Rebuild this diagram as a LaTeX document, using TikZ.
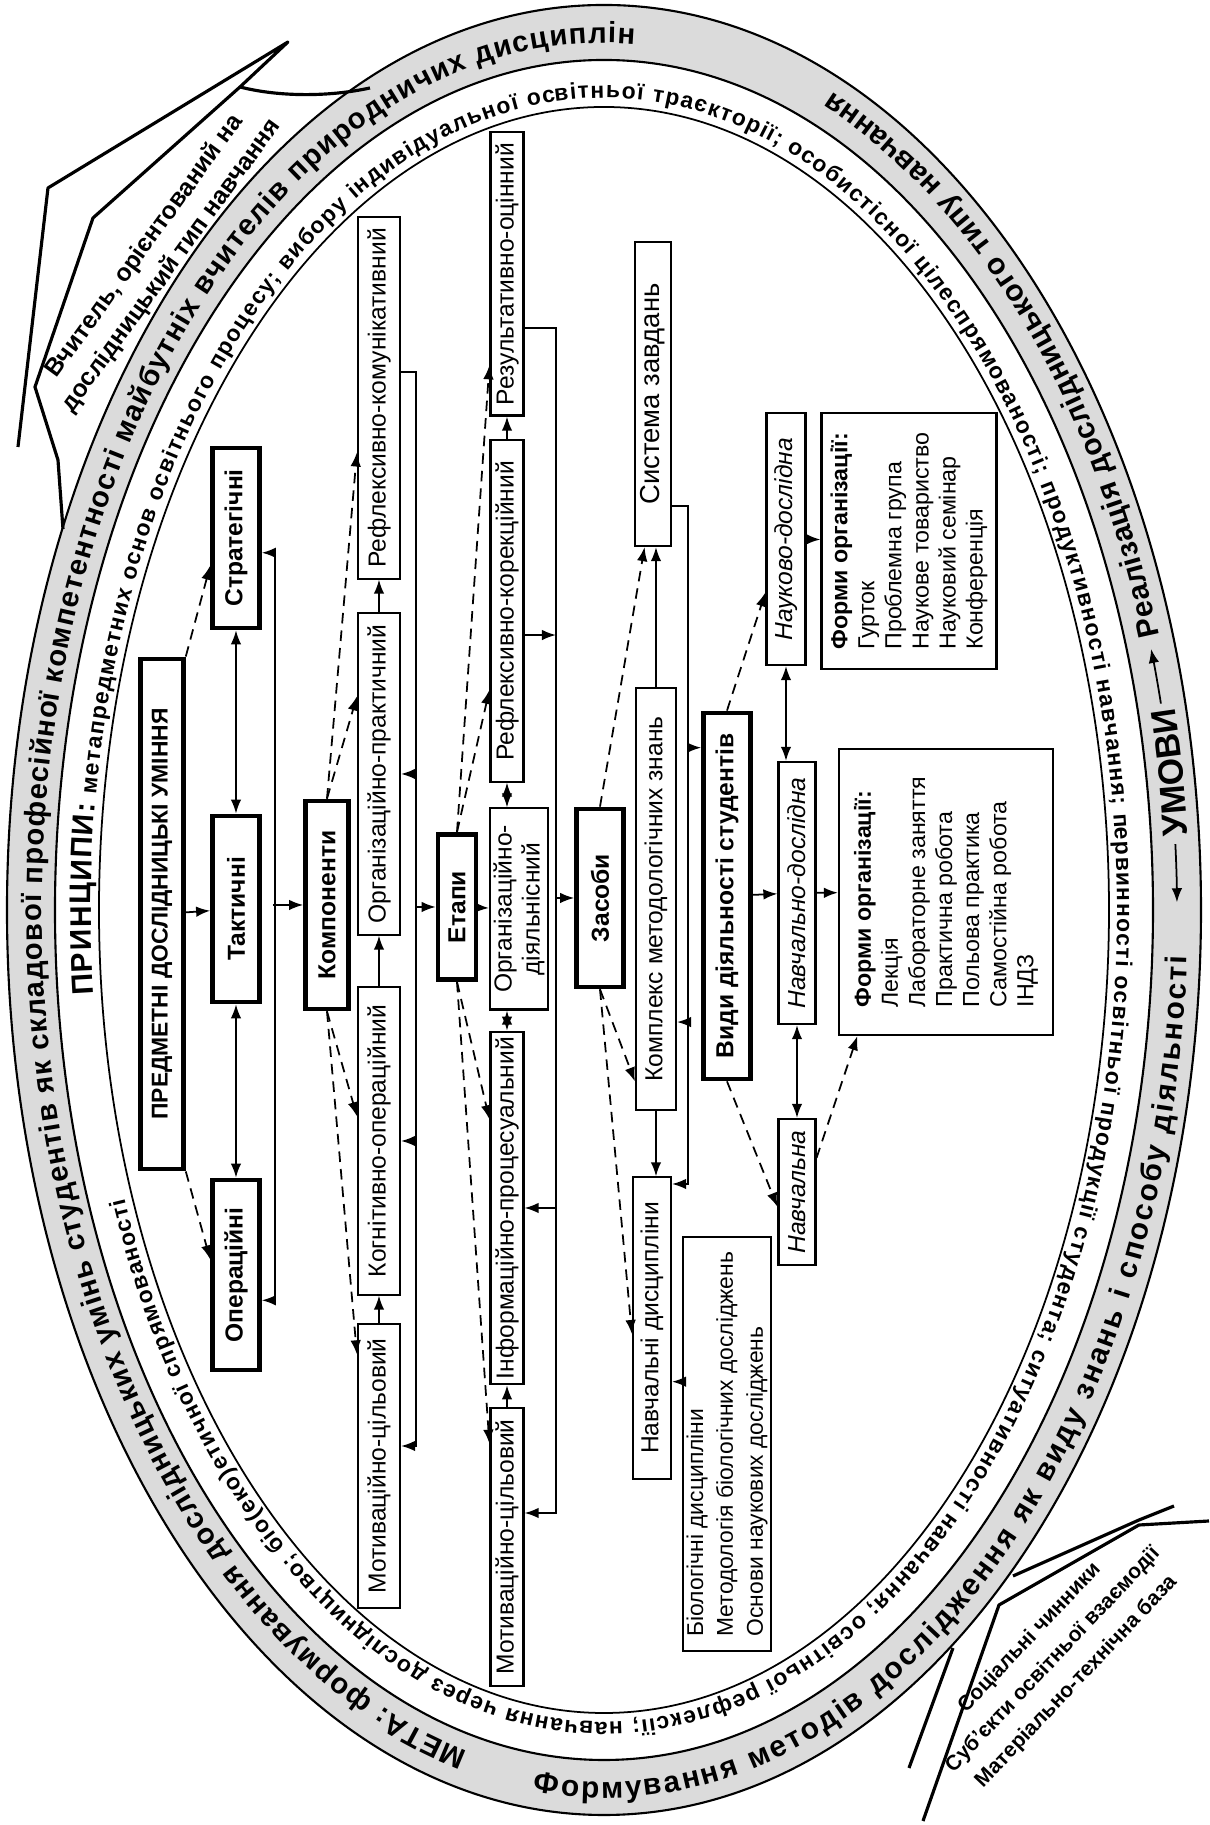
\documentclass[tikz,border=0pt]{standalone}
\usepackage{fontspec}
\setmainfont{Liberation Sans}
\usetikzlibrary{arrows.meta, calc, decorations.text}

\definecolor{bandgray}{gray}{0.86}

\begin{document}
\begin{tikzpicture}[
    x=0.01cm, y=0.01cm,
    rotate=90, transform shape,
    >={Latex[length=4pt, width=3pt]},
    box/.style={
        draw,
        line width=0.6pt,
        inner xsep=1.5pt,
        inner ysep=1pt,
        align=center,
        font=\fontsize{7}{8}\selectfont
    },
    mainbox/.style={box, line width=1.3pt, font=\bfseries\fontsize{7}{8}\selectfont},
    kind/.style={box, font=\itshape\fontsize{7}{8}\selectfont},
    listbox/.style={box, align=left, font=\fontsize{6.6}{7.7}\selectfont},
    link/.style={->, line width=0.5pt},
    twoway/.style={<->, line width=0.5pt},
    fan/.style={->, line width=0.5pt, densely dashed},
    rim/.style={line width=0.6pt},
    ribbon/.style={line width=0.9pt, line join=round},
    ribtext/.style={align=center, font=\bfseries\fontsize{7}{9.3}\selectfont}
]
\useasboundingbox (0,0) rectangle (1825,1209);

% rings with aim, conditions and principles
\begin{scope}[shift={(915,605)}]
\fill[bandgray, even odd rule] (0,0) ellipse [x radius=905, y radius=597]
    (0,0) ellipse [x radius=850, y radius=549];
\draw[rim] (0,0) ellipse [x radius=905, y radius=597];
\draw[rim] (0,0) ellipse [x radius=850, y radius=549];
\draw[line width=0.5pt] (0,0) ellipse [x radius=803, y radius=505];
\path[decorate, decoration={text along path, text align=fit to path,
    text={|\bfseries\fontsize{8.3}{9}\selectfont|МЕТА: формування дослідницьких умінь студентів як складової професійної компетентності майбутніх вчителів природничих дисциплін}}]
    (166:867 and 562) arc[start angle=166, end angle=-3, x radius=867, y radius=562];
\path[decorate, decoration={text along path, text align=fit to path,
    text={|\bfseries\fontsize{8.5}{9}\selectfont|Формування методів дослідження як виду знань і способу діяльності}}]
    (173:888 and 584) arc[start angle=173, end angle=267, x radius=888, y radius=584];
\path[decorate, decoration={text along path, text align=center,
    text={|\bfseries\fontsize{10}{11}\selectfont|УМОВИ}}]
    (274:888 and 586) arc[start angle=274, end angle=284, x radius=888, y radius=586];
\draw[->, line width=0.5pt] (274.3:878 and 573) arc[start angle=274.3, end angle=270.5, x radius=878, y radius=573];
\draw[->, line width=0.5pt] (283.6:878 and 573) arc[start angle=283.6, end angle=287.3, x radius=878, y radius=573];
\path[decorate, decoration={text along path, text align=fit to path,
    text={|\bfseries\fontsize{8.5}{9}\selectfont|Реалізація дослідницького типу навчання}}]
    (288:888 and 584) arc[start angle=288, end angle=337, x radius=888, y radius=584];
\path[decorate, decoration={text along path, text align=fit to path,
    text={|\bfseries\fontsize{8.5}{9}\selectfont|ПРИНЦИПИ:|\bfseries\fontsize{6.5}{7}\selectfont| метапредметних основ освітнього процесу; вибору індивідуальної освітньої траєкторії; особистісної цілеспрямованості; продуктивності навчання; первинності освітньої продукції студента; ситуативності навчання; освітньої рефлексії; навчання через дослідництво; біо(еко)етичної спрямованості}}]
    (96:812 and 513) arc[start angle=96, end angle=-249, x radius=812, y radius=513];
\end{scope}

% ribbons
\draw[ribbon] (1378,1191) -- (1637,1161) -- (1783,921) -- (1738,969) -- (1607,1116)
    -- (1438,1174) -- (1365,1151) -- (1296,1146);
\draw[ribbon] (1738,969) .. controls (1728,930) and (1728,880) .. (1737,839);
\node[ribtext, rotate=-36] (teacher) at (1569,1051) {Вчитель, орієнтований на\\дослідницький тип навчання};
\draw[ribbon] (319,35) -- (305,70) -- (249,196);
\draw[ribbon] (304,0) -- (300,70) -- (220,210) -- (4,286);
\draw[ribbon] (177,256) -- (57,300);
\node[ribtext, font=\bfseries\fontsize{6}{9.1}\selectfont, rotate=-43.4] (factors) at (165,156) {Соціальні чинники\\Суб’єкти освітньої взаємодії\\Матеріально-технічна база};

% skills
\node[mainbox, font=\bfseries\fontsize{6.5}{7.5}\selectfont, minimum width=5.1cm, minimum height=0.43cm] (umin) at (911,1047) {ПРЕДМЕТНІ ДОСЛІДНИЦЬКІ УМІННЯ};
\node[mainbox, minimum width=1.8cm, minimum height=0.47cm] (strat) at (1287,973) {Стратегічні};
\node[mainbox, minimum width=1.86cm, minimum height=0.47cm] (takt) at (916,973) {Тактичні};
\node[mainbox, minimum width=1.9cm, minimum height=0.47cm] (oper) at (550,973) {Операційні};

% components
\node[mainbox, minimum width=2.08cm, minimum height=0.43cm] (komp) at (920,882) {Компоненти};
\node[box, minimum width=2.84cm, minimum height=0.42cm] (kmot) at (359,830) {Мотиваційно-цільовий};
\node[box, minimum width=3.07cm, minimum height=0.42cm] (kkogn) at (684,830) {Когнітивно-операційний};
\node[box, minimum width=3.21cm, minimum height=0.42cm] (korg) at (1051,830) {Організаційно-практичний};
\node[box, minimum width=3.61cm, minimum height=0.42cm] (krefl) at (1427,830) {Рефлексивно-комунікативний};

% stages
\node[mainbox, minimum width=1.45cm, minimum height=0.38cm] (etap) at (918,752) {Етапи};
\node[box, minimum width=2.77cm, minimum height=0.33cm] (emot) at (278,702) {Мотиваційно-цільовий};
\node[box, minimum width=3.42cm, minimum height=0.33cm] (einf) at (617,702) {Інформаційно-процесуальний};
\node[box, inner ysep=0.5pt, minimum width=2.01cm, minimum height=0.58cm] (eorg) at (916,690) {Організаційно-\\діяльнісний};
\node[box, minimum width=3.41cm, minimum height=0.33cm] (erefl) at (1214,702) {Рефлексивно-корекційний};
\node[box, minimum width=2.83cm, minimum height=0.33cm] (erez) at (1551,702) {Результативно-оцінний};

% means
\node[mainbox, minimum width=1.78cm, minimum height=0.47cm] (zas) at (927,609) {Засоби};
\node[box, minimum width=3.01cm, minimum height=0.38cm] (ndysc) at (497,557) {Навчальні дисципліни};
\node[box, minimum width=4.22cm, minimum height=0.40cm] (kompl) at (926,553) {Комплекс методологічних знань};
\node[box, font=\fontsize{7.8}{8.5}\selectfont, minimum width=3.04cm, minimum height=0.36cm] (syst) at (1431,556) {Система завдань};
\node[listbox, font=\fontsize{6.5}{8.5}\selectfont, minimum width=4.13cm, minimum height=0.88cm] (biol) at (381,482) {Біологічні дисципліни\\Методологія біологічних досліджень\\Основи наукових досліджень};

% kinds of activity
\node[mainbox, minimum width=3.66cm, minimum height=0.47cm] (vydy) at (929,482) {Види діяльності студентів};
\node[kind, minimum width=2.52cm, minimum height=0.39cm] (nd) at (1286,423) {Науково-дослідна};
\node[kind, minimum width=2.62cm, minimum height=0.37cm] (ndosl) at (932,412) {Навчально-дослідна};
\node[kind, minimum width=1.46cm, minimum height=0.37cm] (navch) at (633,412) {Навчальна};
\node[listbox, minimum width=2.56cm, minimum height=1.75cm] (forms1) at (1284,300) {\textbf{Форми організації:}\\Гурток\\Проблемна група\\Наукове товариство\\Науковий семінар\\Конференція};
\node[listbox, minimum width=2.86cm, minimum height=2.14cm] (forms2) at (933,263) {\textbf{Форми організації:}\\Лекція\\Лабораторне заняття\\Практична робота\\Польова практика\\Самостійна робота\\ІНДЗ};

% skills links
\draw[fan] (umin.south east) -- ($(strat.north west)!.35!(strat.north east)$);
\draw[link] (umin) -- (takt);
\draw[fan] (umin.south west) -- ($(oper.north west)!.58!(oper.north east)$);
\draw[twoway] (takt) -- (strat);
\draw[twoway] (takt) -- (oper);
\draw[twoway] ($(strat.south west)!.42!(strat.south east)$) -- ++(0,-13) -| ($(oper.south west)!.37!(oper.south east)$);
\coordinate (skillsbus) at (920,936);
\draw[link] (skillsbus) -- (komp);

% components links
\draw[fan] (komp.west) -- ($(kkogn.north west)!.58!(kkogn.north east)$);
\draw[fan] (komp.west) -- ($(kmot.north west)!.89!(kmot.north east)$);
\draw[fan] (komp.east) -- ($(korg.north west)!.74!(korg.north east)$);
\draw[fan] (komp.east) -- ($(krefl.north west)!.35!(krefl.north east)$);
\draw[link] (kmot) -- (kkogn);
\draw[link] (kkogn) -- (korg);
\draw[link] (korg) -- (krefl);
\coordinate (back1) at (1453,793);
\coordinate (back1end) at (379,793);
\draw[link] (krefl.south -| back1) -- (back1) -- (back1end) -- (back1end |- kmot.south);
\draw[link] (back1 -| korg) -- (korg.south);
\draw[link] (back1 -| kkogn) -- (kkogn.south);
\draw[link] (back1 -| etap) -- (etap.north);

% stages links
\draw[fan] (etap.west) -- ($(einf.north west)!.75!(einf.north east)$);
\draw[fan] (etap.west) -- ($(emot.north west)!.87!(emot.north east)$);
\draw[fan] (etap.east) -- ($(erefl.north west)!.27!(erefl.north east)$);
\draw[fan] (etap.east) -- ($(erez.north west)!.18!(erez.north east)$);
\draw[link] (etap) -- (eorg);
\draw[link] (emot) -- (einf);
\draw[twoway] (einf.east) -- (einf.east -| eorg.west);
\draw[twoway] (erefl.west) -- (erefl.west -| eorg.east);
\draw[link] (erefl) -- (erez);
\coordinate (back2) at (1497,653);
\coordinate (back2end) at (312,653);
\draw[link] (erez.south -| back2) -- (back2) -- (back2end) -- (back2end |- emot.south);
\coordinate (r2) at ($(erefl.south west)!.43!(erefl.south east)$);
\draw[link] (r2) -- (r2 |- back2);
\draw[link] (back2 -| einf) -- (einf.south);
\draw[link] (back2 -| zas) -- (zas.north);

% means links
\draw[fan] (zas.west) -- ($(kompl.north west)!.07!(kompl.north east)$);
\draw[fan] (zas.west) -- ($(ndysc.north west)!.48!(ndysc.north east)$);
\draw[fan] (zas.east) -- ($(syst.north west)!.28!(syst.south west)$);
\draw[link] (kompl.east) -- (kompl.east -| syst.west);
\draw[link] (kompl.west) -- (kompl.west -| ndysc.east);
\coordinate (back3) at (1319,521);
\coordinate (back3end) at (641,521);
\draw[link] (syst.south -| back3) -- (back3) -- (back3end) -- (back3end |- ndysc.south);
\coordinate (k3) at ($(kompl.south west)!.21!(kompl.south east)$);
\draw[link] (k3 |- back3) -- (k3);
\coordinate (v3) at ($(vydy.north west)!.9!(vydy.north east)$);
\draw[link] (v3 |- back3) -- (v3);
\coordinate (b3) at ($(biol.north west)!.65!(biol.north east)$);
\draw[link] (b3) -- (b3 |- ndysc.south);

% activity links
\draw[fan] (vydy.east) -- ($(nd.north west)!.29!(nd.north east)$);
\draw[link] (vydy) -- (ndosl);
\draw[fan] (vydy.west) -- ($(navch.north west)!.4!(navch.north east)$);
\draw[twoway] (nd.west) -- (nd.west -| ndosl.east);
\draw[twoway] (navch) -- (ndosl);
\draw[link] (nd) -- (forms1);
\draw[link] (ndosl) -- (forms2);
\draw[fan] ($(navch.south west)!.73!(navch.south east)$) -- ($(forms2.north west)!.09!(forms2.south west)$);
\end{tikzpicture}
\end{document}
